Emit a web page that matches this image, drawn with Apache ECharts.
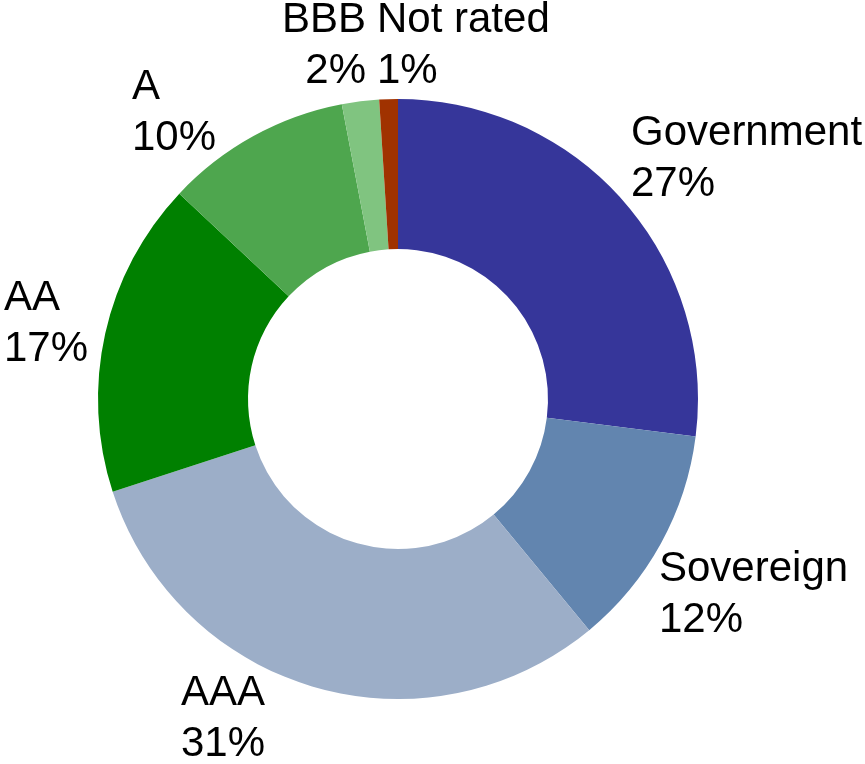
<!DOCTYPE html>
<html>
<head>
<meta charset="utf-8">
<script src="https://cdn.jsdelivr.net/npm/echarts@6/dist/echarts.min.js"></script>
<style>
  html, body { margin: 0; padding: 0; background: #fff; }
  #chart { width: 865px; height: 764px; }
</style>
</head>
<body>
<div id="chart"></div>
<script>
// 数据
const categories = ['Government', 'Sovereign', 'AAA', 'AA', 'A', 'BBB', 'Not rated']
const shares = [27, 12, 31, 17, 10, 2, 1]
const colors = ['#36369a', '#6285af', '#9caec8', '#008000', '#4ea64e', '#80c480', '#a03200']

// 标签位置（左上角 / 对齐方式），仿照原图摆放
const labelSpots = [
  [631, 108, 'left'],
  [659, 544, 'left'],
  [181, 668, 'left'],
  [4, 273, 'left'],
  [132, 62, 'left'],
  [366, -5, 'right'],
  [377, -5, 'left'],
]

const chart = echarts.init(document.getElementById('chart'))

const option = {
  animation: false,
  color: colors,
  series: [
    {
      type: 'pie',
      center: [398, 399],
      radius: [150, 300],
      startAngle: 90,
      clockwise: true,
      avoidLabelOverlap: false,
      data: categories.map((name, i) => ({ name, value: shares[i] })),
      label: {
        show: true,
        position: 'outside',
        formatter: '{b}\n{c}%',
        fontFamily: '"Liberation Sans", Arial, sans-serif',
        fontSize: 42,
        lineHeight: 51,
        color: '#000',
      },
      labelLine: { show: false },
      labelLayout: (params) => {
        const spot = labelSpots[params.dataIndex]
        return { x: spot[0], y: spot[1], align: spot[2], verticalAlign: 'top' }
      },
      itemStyle: { borderWidth: 0 },
      emphasis: { disabled: true },
    },
  ],
}

chart.setOption(option)
</script>
</body>
</html>
